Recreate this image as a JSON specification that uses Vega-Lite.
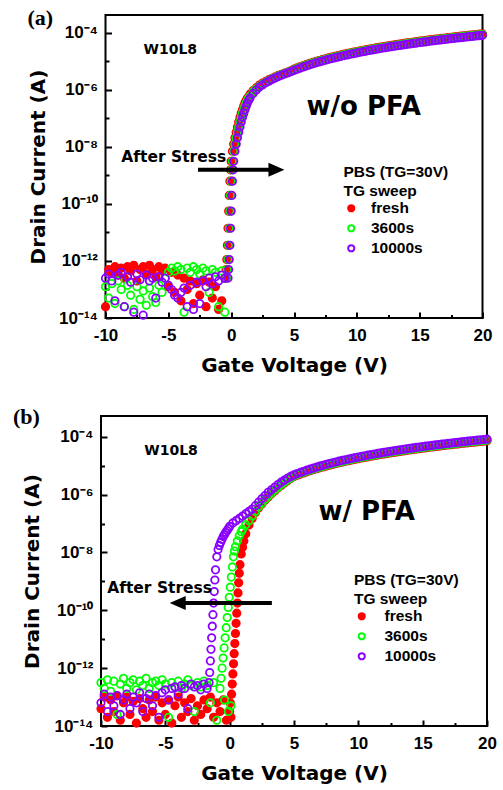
{
"$schema": "https://vega.github.io/schema/vega-lite/v6.json",
"background": "white",
"padding": {"left": 12, "top": 6, "right": 4, "bottom": 4},
"spacing": 98,
"bounds": "flush",
"center": true,
"config": {
  "view": {"stroke": "black", "strokeWidth": 2},
  "axis": {"grid": false, "domain": false, "tickColor": "black", "tickWidth": 2, "labelColor": "black", "titleColor": "black"},
  "legend": {"padding": 0}
},
"resolve": {"scale": {"stroke": "independent", "fill": "independent"}, "legend": {"stroke": "independent", "fill": "independent"}},
"datasets": {
"a": [
{"s":"fresh","v":-10,"i":2.5e-14},{"s":"fresh","v":-9.75,"i":5.0e-13},{"s":"fresh","v":-9.5,"i":4.0e-13},{"s":"fresh","v":-9.25,"i":6.3e-13},{"s":"fresh","v":-9,"i":3.2e-13},{"s":"fresh","v":-8.75,"i":5.6e-13},{"s":"fresh","v":-8.5,"i":2.5e-13},{"s":"fresh","v":-8.25,"i":6.3e-13},{"s":"fresh","v":-8,"i":4.5e-13},{"s":"fresh","v":-7.75,"i":7.1e-13},{"s":"fresh","v":-7.5,"i":2.0e-13},{"s":"fresh","v":-7.25,"i":5.0e-13},{"s":"fresh","v":-7,"i":6.3e-13},{"s":"fresh","v":-6.75,"i":3.5e-13},{"s":"fresh","v":-6.5,"i":7.1e-13},{"s":"fresh","v":-6.25,"i":5.0e-13},{"s":"fresh","v":-6,"i":2.8e-13},{"s":"fresh","v":-5.75,"i":6.3e-13},{"s":"fresh","v":-5.5,"i":4.5e-13},{"s":"fresh","v":-5.25,"i":5.6e-13},{"s":"fresh","v":-5,"i":1.26e-13},{"s":"fresh","v":-4.75,"i":4.0e-13},{"s":"fresh","v":-4.5,"i":7.9e-14},{"s":"fresh","v":-4.25,"i":3.2e-13},{"s":"fresh","v":-4,"i":4.0e-14},{"s":"fresh","v":-3.75,"i":2.5e-13},{"s":"fresh","v":-3.5,"i":1.0e-13},{"s":"fresh","v":-3.25,"i":2.0e-13},{"s":"fresh","v":-3,"i":3.2e-14},{"s":"fresh","v":-2.75,"i":1.6e-13},{"s":"fresh","v":-2.5,"i":6.3e-14},{"s":"fresh","v":-2.25,"i":2.2e-13},{"s":"fresh","v":-2,"i":2.5e-14},{"s":"fresh","v":-1.75,"i":1.8e-13},{"s":"fresh","v":-1.5,"i":5.0e-14},{"s":"fresh","v":-1.25,"i":1.26e-13},{"s":"fresh","v":-1,"i":2.0e-14},{"s":"fresh","v":-0.75,"i":4.0e-14},{"s":"fresh","v":-0.5,"i":2.5e-13},
{"s":"fresh","v":-0.45,"i":2.51e-13},{"s":"fresh","v":-0.4,"i":5.01e-13},{"s":"fresh","v":-0.35,"i":1.12e-12},{"s":"fresh","v":-0.3,"i":3.55e-12},{"s":"fresh","v":-0.25,"i":1.41e-11},{"s":"fresh","v":-0.2,"i":5.62e-11},{"s":"fresh","v":-0.15,"i":2.0e-10},{"s":"fresh","v":-0.1,"i":6.31e-10},{"s":"fresh","v":-0.05,"i":1.58e-9},{"s":"fresh","v":0,"i":3.16e-9},{"s":"fresh","v":0.1,"i":7.08e-9},{"s":"fresh","v":0.2,"i":1.26e-8},{"s":"fresh","v":0.3,"i":2.09e-8},{"s":"fresh","v":0.4,"i":3.31e-8},{"s":"fresh","v":0.5,"i":5.01e-8},{"s":"fresh","v":0.6,"i":7.59e-8},{"s":"fresh","v":0.7,"i":1.10e-7},{"s":"fresh","v":0.8,"i":1.51e-7},{"s":"fresh","v":0.9,"i":2.04e-7},{"s":"fresh","v":1.0,"i":2.75e-7},{"s":"fresh","v":1.1,"i":3.55e-7},{"s":"fresh","v":1.2,"i":4.37e-7},{"s":"fresh","v":1.3,"i":5.25e-7},{"s":"fresh","v":1.5,"i":7.1e-7},{"s":"fresh","v":1.75,"i":9.5e-7},{"s":"fresh","v":2.0,"i":1.2e-6},{"s":"fresh","v":2.25,"i":1.48e-6},{"s":"fresh","v":2.5,"i":1.74e-6},{"s":"fresh","v":2.75,"i":2.0e-6},{"s":"fresh","v":3.0,"i":2.29e-6},{"s":"fresh","v":3.25,"i":2.57e-6},{"s":"fresh","v":3.5,"i":2.88e-6},{"s":"fresh","v":3.75,"i":3.24e-6},{"s":"fresh","v":4.0,"i":3.55e-6},{"s":"fresh","v":4.25,"i":3.89e-6},{"s":"fresh","v":4.5,"i":4.27e-6},{"s":"fresh","v":4.75,"i":4.68e-6},
{"s":"fresh","v":5,"i":5.41e-6},{"s":"fresh","v":5.25,"i":5.98e-6},{"s":"fresh","v":5.5,"i":6.57e-6},{"s":"fresh","v":5.75,"i":7.20e-6},{"s":"fresh","v":6,"i":7.86e-6},{"s":"fresh","v":6.25,"i":8.55e-6},{"s":"fresh","v":6.5,"i":9.26e-6},{"s":"fresh","v":6.75,"i":1.001e-5},{"s":"fresh","v":7,"i":1.079e-5},{"s":"fresh","v":7.25,"i":1.159e-5},{"s":"fresh","v":7.5,"i":1.242e-5},{"s":"fresh","v":7.75,"i":1.328e-5},{"s":"fresh","v":8,"i":1.418e-5},{"s":"fresh","v":8.25,"i":1.510e-5},{"s":"fresh","v":8.5,"i":1.605e-5},{"s":"fresh","v":8.75,"i":1.704e-5},{"s":"fresh","v":9,"i":1.805e-5},{"s":"fresh","v":9.25,"i":1.910e-5},{"s":"fresh","v":9.5,"i":2.016e-5},{"s":"fresh","v":9.75,"i":2.127e-5},{"s":"fresh","v":10,"i":2.240e-5},{"s":"fresh","v":10.25,"i":2.356e-5},{"s":"fresh","v":10.5,"i":2.475e-5},{"s":"fresh","v":10.75,"i":2.598e-5},{"s":"fresh","v":11,"i":2.724e-5},{"s":"fresh","v":11.25,"i":2.853e-5},{"s":"fresh","v":11.5,"i":2.984e-5},{"s":"fresh","v":11.75,"i":3.118e-5},{"s":"fresh","v":12,"i":3.256e-5},{"s":"fresh","v":12.25,"i":3.396e-5},{"s":"fresh","v":12.5,"i":3.539e-5},{"s":"fresh","v":12.75,"i":3.686e-5},{"s":"fresh","v":13,"i":3.836e-5},{"s":"fresh","v":13.25,"i":3.988e-5},{"s":"fresh","v":13.5,"i":4.144e-5},{"s":"fresh","v":13.75,"i":4.303e-5},{"s":"fresh","v":14,"i":4.465e-5},{"s":"fresh","v":14.25,"i":4.630e-5},{"s":"fresh","v":14.5,"i":4.798e-5},{"s":"fresh","v":14.75,"i":4.969e-5},{"s":"fresh","v":15,"i":5.143e-5},{"s":"fresh","v":15.25,"i":5.321e-5},{"s":"fresh","v":15.5,"i":5.500e-5},{"s":"fresh","v":15.75,"i":5.684e-5},{"s":"fresh","v":16,"i":5.871e-5},{"s":"fresh","v":16.25,"i":6.060e-5},{"s":"fresh","v":16.5,"i":6.253e-5},{"s":"fresh","v":16.75,"i":6.449e-5},{"s":"fresh","v":17,"i":6.647e-5},{"s":"fresh","v":17.25,"i":6.850e-5},{"s":"fresh","v":17.5,"i":7.055e-5},{"s":"fresh","v":17.75,"i":7.263e-5},{"s":"fresh","v":18,"i":7.474e-5},{"s":"fresh","v":18.25,"i":7.689e-5},{"s":"fresh","v":18.5,"i":7.906e-5},{"s":"fresh","v":18.75,"i":8.127e-5},{"s":"fresh","v":19,"i":8.351e-5},{"s":"fresh","v":19.25,"i":8.578e-5},{"s":"fresh","v":19.5,"i":8.808e-5},{"s":"fresh","v":19.75,"i":9.041e-5},{"s":"fresh","v":20,"i":9.277e-5},
{"s":"3600s","v":-10,"i":1.26e-13},{"s":"3600s","v":-9.75,"i":5.0e-14},{"s":"3600s","v":-9.5,"i":1.6e-13},{"s":"3600s","v":-9.25,"i":3.2e-14},{"s":"3600s","v":-9,"i":2.0e-13},{"s":"3600s","v":-8.75,"i":1.0e-13},{"s":"3600s","v":-8.5,"i":2.5e-14},{"s":"3600s","v":-8.25,"i":1.4e-13},{"s":"3600s","v":-8,"i":6.3e-14},{"s":"3600s","v":-7.75,"i":2.0e-14},{"s":"3600s","v":-7.5,"i":1.26e-13},{"s":"3600s","v":-7.25,"i":4.5e-14},{"s":"3600s","v":-7,"i":8.9e-14},{"s":"3600s","v":-6.75,"i":2.8e-14},{"s":"3600s","v":-6.5,"i":1.12e-13},{"s":"3600s","v":-6.25,"i":5.6e-14},{"s":"3600s","v":-6,"i":3.5e-14},{"s":"3600s","v":-5.75,"i":1.4e-13},{"s":"3600s","v":-5.5,"i":7.9e-14},{"s":"3600s","v":-5.25,"i":2.5e-13},{"s":"3600s","v":-5,"i":4.0e-13},{"s":"3600s","v":-4.75,"i":5.6e-13},{"s":"3600s","v":-4.5,"i":4.5e-13},{"s":"3600s","v":-4.25,"i":6.3e-13},{"s":"3600s","v":-4,"i":5.0e-13},{"s":"3600s","v":-3.75,"i":1.6e-14},{"s":"3600s","v":-3.5,"i":5.6e-13},{"s":"3600s","v":-3.25,"i":4.0e-13},{"s":"3600s","v":-3,"i":6.3e-13},{"s":"3600s","v":-2.75,"i":5.0e-13},{"s":"3600s","v":-2.5,"i":3.5e-13},{"s":"3600s","v":-2.25,"i":5.6e-13},{"s":"3600s","v":-2,"i":4.5e-13},{"s":"3600s","v":-1.75,"i":7.9e-14},{"s":"3600s","v":-1.5,"i":5.0e-13},{"s":"3600s","v":-1.25,"i":4.0e-13},{"s":"3600s","v":-1,"i":2.5e-14},{"s":"3600s","v":-0.75,"i":4.5e-13},{"s":"3600s","v":-0.5,"i":1.6e-14},
{"s":"3600s","v":-0.35,"i":2.51e-13},{"s":"3600s","v":-0.3,"i":5.01e-13},{"s":"3600s","v":-0.25,"i":1.12e-12},{"s":"3600s","v":-0.2,"i":3.55e-12},{"s":"3600s","v":-0.15,"i":1.41e-11},{"s":"3600s","v":-0.1,"i":5.62e-11},{"s":"3600s","v":-0.05,"i":2.0e-10},{"s":"3600s","v":0,"i":6.31e-10},{"s":"3600s","v":0.05,"i":1.58e-9},{"s":"3600s","v":0.1,"i":3.16e-9},{"s":"3600s","v":0.2,"i":7.08e-9},{"s":"3600s","v":0.3,"i":1.26e-8},{"s":"3600s","v":0.4,"i":2.09e-8},{"s":"3600s","v":0.5,"i":3.31e-8},{"s":"3600s","v":0.6,"i":5.01e-8},{"s":"3600s","v":0.7,"i":7.59e-8},{"s":"3600s","v":0.8,"i":1.10e-7},{"s":"3600s","v":0.9,"i":1.51e-7},{"s":"3600s","v":1.0,"i":2.04e-7},{"s":"3600s","v":1.1,"i":2.75e-7},{"s":"3600s","v":1.2,"i":3.55e-7},{"s":"3600s","v":1.3,"i":4.37e-7},{"s":"3600s","v":1.4,"i":5.25e-7},{"s":"3600s","v":1.5,"i":6.03e-7},{"s":"3600s","v":1.75,"i":8.51e-7},{"s":"3600s","v":2.0,"i":1.10e-6},{"s":"3600s","v":2.25,"i":1.35e-6},{"s":"3600s","v":2.5,"i":1.62e-6},{"s":"3600s","v":2.75,"i":1.86e-6},{"s":"3600s","v":3.0,"i":2.14e-6},{"s":"3600s","v":3.25,"i":2.45e-6},{"s":"3600s","v":3.5,"i":2.75e-6},{"s":"3600s","v":3.75,"i":3.09e-6},{"s":"3600s","v":4.0,"i":3.43e-6},{"s":"3600s","v":4.25,"i":3.76e-6},{"s":"3600s","v":4.5,"i":4.12e-6},{"s":"3600s","v":4.75,"i":4.52e-6},
{"s":"3600s","v":5,"i":5.12e-6},{"s":"3600s","v":5.25,"i":5.66e-6},{"s":"3600s","v":5.5,"i":6.22e-6},{"s":"3600s","v":5.75,"i":6.82e-6},{"s":"3600s","v":6,"i":7.44e-6},{"s":"3600s","v":6.25,"i":8.09e-6},{"s":"3600s","v":6.5,"i":8.77e-6},{"s":"3600s","v":6.75,"i":9.48e-6},{"s":"3600s","v":7,"i":1.021e-5},{"s":"3600s","v":7.25,"i":1.097e-5},{"s":"3600s","v":7.5,"i":1.176e-5},{"s":"3600s","v":7.75,"i":1.257e-5},{"s":"3600s","v":8,"i":1.342e-5},{"s":"3600s","v":8.25,"i":1.429e-5},{"s":"3600s","v":8.5,"i":1.519e-5},{"s":"3600s","v":8.75,"i":1.612e-5},{"s":"3600s","v":9,"i":1.709e-5},{"s":"3600s","v":9.25,"i":1.807e-5},{"s":"3600s","v":9.5,"i":1.908e-5},{"s":"3600s","v":9.75,"i":2.013e-5},{"s":"3600s","v":10,"i":2.120e-5},{"s":"3600s","v":10.25,"i":2.230e-5},{"s":"3600s","v":10.5,"i":2.343e-5},{"s":"3600s","v":10.75,"i":2.459e-5},{"s":"3600s","v":11,"i":2.578e-5},{"s":"3600s","v":11.25,"i":2.700e-5},{"s":"3600s","v":11.5,"i":2.824e-5},{"s":"3600s","v":11.75,"i":2.951e-5},{"s":"3600s","v":12,"i":3.081e-5},{"s":"3600s","v":12.25,"i":3.214e-5},{"s":"3600s","v":12.5,"i":3.350e-5},{"s":"3600s","v":12.75,"i":3.488e-5},{"s":"3600s","v":13,"i":3.631e-5},{"s":"3600s","v":13.25,"i":3.775e-5},{"s":"3600s","v":13.5,"i":3.922e-5},{"s":"3600s","v":13.75,"i":4.073e-5},{"s":"3600s","v":14,"i":4.226e-5},{"s":"3600s","v":14.25,"i":4.382e-5},{"s":"3600s","v":14.5,"i":4.541e-5},{"s":"3600s","v":14.75,"i":4.703e-5},{"s":"3600s","v":15,"i":4.868e-5},{"s":"3600s","v":15.25,"i":5.036e-5},{"s":"3600s","v":15.5,"i":5.206e-5},{"s":"3600s","v":15.75,"i":5.380e-5},{"s":"3600s","v":16,"i":5.557e-5},{"s":"3600s","v":16.25,"i":5.736e-5},{"s":"3600s","v":16.5,"i":5.918e-5},{"s":"3600s","v":16.75,"i":6.103e-5},{"s":"3600s","v":17,"i":6.291e-5},{"s":"3600s","v":17.25,"i":6.483e-5},{"s":"3600s","v":17.5,"i":6.677e-5},{"s":"3600s","v":17.75,"i":6.874e-5},{"s":"3600s","v":18,"i":7.073e-5},{"s":"3600s","v":18.25,"i":7.277e-5},{"s":"3600s","v":18.5,"i":7.483e-5},{"s":"3600s","v":18.75,"i":7.691e-5},{"s":"3600s","v":19,"i":7.903e-5},{"s":"3600s","v":19.25,"i":8.119e-5},{"s":"3600s","v":19.5,"i":8.336e-5},{"s":"3600s","v":19.75,"i":8.556e-5},{"s":"3600s","v":20,"i":8.780e-5},
{"s":"10000s","v":-10,"i":2.5e-13},{"s":"10000s","v":-9.75,"i":3.5e-13},{"s":"10000s","v":-9.5,"i":2.0e-13},{"s":"10000s","v":-9.25,"i":4.0e-14},{"s":"10000s","v":-9,"i":3.2e-13},{"s":"10000s","v":-8.75,"i":4.0e-13},{"s":"10000s","v":-8.5,"i":2.5e-14},{"s":"10000s","v":-8.25,"i":2.8e-13},{"s":"10000s","v":-8,"i":1.8e-13},{"s":"10000s","v":-7.75,"i":1.6e-14},{"s":"10000s","v":-7.5,"i":3.5e-13},{"s":"10000s","v":-7.25,"i":2.2e-13},{"s":"10000s","v":-7,"i":1.26e-14},{"s":"10000s","v":-6.75,"i":3.2e-13},{"s":"10000s","v":-6.5,"i":2.0e-13},{"s":"10000s","v":-6.25,"i":2.5e-13},{"s":"10000s","v":-6,"i":5.0e-14},{"s":"10000s","v":-5.75,"i":2.8e-13},{"s":"10000s","v":-5.5,"i":1.8e-13},{"s":"10000s","v":-5.25,"i":2.5e-13},{"s":"10000s","v":-5,"i":1.4e-13},{"s":"10000s","v":-4.75,"i":1.0e-13},{"s":"10000s","v":-4.5,"i":6.3e-14},{"s":"10000s","v":-4.25,"i":5.0e-14},{"s":"10000s","v":-4,"i":7.9e-14},{"s":"10000s","v":-3.75,"i":1.12e-13},{"s":"10000s","v":-3.5,"i":2.5e-14},{"s":"10000s","v":-3.25,"i":1.4e-13},{"s":"10000s","v":-3,"i":2.0e-14},{"s":"10000s","v":-2.75,"i":1.8e-13},{"s":"10000s","v":-2.5,"i":3.2e-14},{"s":"10000s","v":-2.25,"i":2.0e-13},{"s":"10000s","v":-2,"i":1.26e-13},{"s":"10000s","v":-1.75,"i":2.5e-13},{"s":"10000s","v":-1.5,"i":1.6e-13},{"s":"10000s","v":-1.25,"i":2.8e-13},{"s":"10000s","v":-1,"i":2.0e-13},{"s":"10000s","v":-0.75,"i":3.2e-13},{"s":"10000s","v":-0.5,"i":2.5e-13},
{"s":"10000s","v":-0.25,"i":2.51e-13},{"s":"10000s","v":-0.2,"i":5.01e-13},{"s":"10000s","v":-0.15,"i":1.12e-12},{"s":"10000s","v":-0.1,"i":3.55e-12},{"s":"10000s","v":-0.05,"i":1.41e-11},{"s":"10000s","v":0,"i":5.62e-11},{"s":"10000s","v":0.05,"i":2.0e-10},{"s":"10000s","v":0.1,"i":6.31e-10},{"s":"10000s","v":0.15,"i":1.58e-9},{"s":"10000s","v":0.2,"i":3.16e-9},{"s":"10000s","v":0.3,"i":7.08e-9},{"s":"10000s","v":0.4,"i":1.26e-8},{"s":"10000s","v":0.5,"i":2.09e-8},{"s":"10000s","v":0.6,"i":3.31e-8},{"s":"10000s","v":0.7,"i":5.01e-8},{"s":"10000s","v":0.8,"i":7.59e-8},{"s":"10000s","v":0.9,"i":1.10e-7},{"s":"10000s","v":1.0,"i":1.51e-7},{"s":"10000s","v":1.1,"i":2.04e-7},{"s":"10000s","v":1.2,"i":2.75e-7},{"s":"10000s","v":1.3,"i":3.55e-7},{"s":"10000s","v":1.4,"i":4.37e-7},{"s":"10000s","v":1.5,"i":5.25e-7},{"s":"10000s","v":1.75,"i":7.59e-7},{"s":"10000s","v":2.0,"i":1.0e-6},{"s":"10000s","v":2.25,"i":1.26e-6},{"s":"10000s","v":2.5,"i":1.51e-6},{"s":"10000s","v":2.75,"i":1.78e-6},{"s":"10000s","v":3.0,"i":2.04e-6},{"s":"10000s","v":3.25,"i":2.34e-6},{"s":"10000s","v":3.5,"i":2.63e-6},{"s":"10000s","v":3.75,"i":2.95e-6},{"s":"10000s","v":4.0,"i":3.31e-6},{"s":"10000s","v":4.25,"i":3.63e-6},{"s":"10000s","v":4.5,"i":3.98e-6},{"s":"10000s","v":4.75,"i":4.37e-6},
{"s":"10000s","v":5,"i":4.83e-6},{"s":"10000s","v":5.25,"i":5.34e-6},{"s":"10000s","v":5.5,"i":5.87e-6},{"s":"10000s","v":5.75,"i":6.43e-6},{"s":"10000s","v":6,"i":7.02e-6},{"s":"10000s","v":6.25,"i":7.63e-6},{"s":"10000s","v":6.5,"i":8.27e-6},{"s":"10000s","v":6.75,"i":8.94e-6},{"s":"10000s","v":7,"i":9.63e-6},{"s":"10000s","v":7.25,"i":1.035e-5},{"s":"10000s","v":7.5,"i":1.109e-5},{"s":"10000s","v":7.75,"i":1.186e-5},{"s":"10000s","v":8,"i":1.266e-5},{"s":"10000s","v":8.25,"i":1.348e-5},{"s":"10000s","v":8.5,"i":1.433e-5},{"s":"10000s","v":8.75,"i":1.521e-5},{"s":"10000s","v":9,"i":1.612e-5},{"s":"10000s","v":9.25,"i":1.705e-5},{"s":"10000s","v":9.5,"i":1.800e-5},{"s":"10000s","v":9.75,"i":1.899e-5},{"s":"10000s","v":10,"i":2.000e-5},{"s":"10000s","v":10.25,"i":2.104e-5},{"s":"10000s","v":10.5,"i":2.210e-5},{"s":"10000s","v":10.75,"i":2.320e-5},{"s":"10000s","v":11,"i":2.432e-5},{"s":"10000s","v":11.25,"i":2.547e-5},{"s":"10000s","v":11.5,"i":2.664e-5},{"s":"10000s","v":11.75,"i":2.784e-5},{"s":"10000s","v":12,"i":2.907e-5},{"s":"10000s","v":12.25,"i":3.032e-5},{"s":"10000s","v":12.5,"i":3.160e-5},{"s":"10000s","v":12.75,"i":3.291e-5},{"s":"10000s","v":13,"i":3.425e-5},{"s":"10000s","v":13.25,"i":3.561e-5},{"s":"10000s","v":13.5,"i":3.700e-5},{"s":"10000s","v":13.75,"i":3.842e-5},{"s":"10000s","v":14,"i":3.987e-5},{"s":"10000s","v":14.25,"i":4.134e-5},{"s":"10000s","v":14.5,"i":4.284e-5},{"s":"10000s","v":14.75,"i":4.437e-5},{"s":"10000s","v":15,"i":4.592e-5},{"s":"10000s","v":15.25,"i":4.751e-5},{"s":"10000s","v":15.5,"i":4.911e-5},{"s":"10000s","v":15.75,"i":5.075e-5},{"s":"10000s","v":16,"i":5.242e-5},{"s":"10000s","v":16.25,"i":5.411e-5},{"s":"10000s","v":16.5,"i":5.583e-5},{"s":"10000s","v":16.75,"i":5.758e-5},{"s":"10000s","v":17,"i":5.935e-5},{"s":"10000s","v":17.25,"i":6.116e-5},{"s":"10000s","v":17.5,"i":6.299e-5},{"s":"10000s","v":17.75,"i":6.485e-5},{"s":"10000s","v":18,"i":6.673e-5},{"s":"10000s","v":18.25,"i":6.865e-5},{"s":"10000s","v":18.5,"i":7.059e-5},{"s":"10000s","v":18.75,"i":7.256e-5},{"s":"10000s","v":19,"i":7.456e-5},{"s":"10000s","v":19.25,"i":7.659e-5},{"s":"10000s","v":19.5,"i":7.864e-5},{"s":"10000s","v":19.75,"i":8.072e-5},{"s":"10000s","v":20,"i":8.283e-5}
],
"b": [
{"s":"fresh","v":-10,"i":3.98e-14},{"s":"fresh","v":-9.75,"i":1.0e-13},{"s":"fresh","v":-9.5,"i":2.0e-14},{"s":"fresh","v":-9.25,"i":7.94e-14},{"s":"fresh","v":-9,"i":3.16e-14},{"s":"fresh","v":-8.75,"i":1.12e-13},{"s":"fresh","v":-8.5,"i":1.58e-14},{"s":"fresh","v":-8.25,"i":6.31e-14},{"s":"fresh","v":-8,"i":1.0e-13},{"s":"fresh","v":-7.75,"i":2.51e-14},{"s":"fresh","v":-7.5,"i":7.08e-14},{"s":"fresh","v":-7.25,"i":1.26e-14},{"s":"fresh","v":-7,"i":8.91e-14},{"s":"fresh","v":-6.75,"i":3.98e-14},{"s":"fresh","v":-6.5,"i":2.0e-14},{"s":"fresh","v":-6.25,"i":7.94e-14},{"s":"fresh","v":-6,"i":3.16e-14},{"s":"fresh","v":-5.75,"i":1.0e-13},{"s":"fresh","v":-5.5,"i":1.58e-14},{"s":"fresh","v":-5.25,"i":6.31e-14},{"s":"fresh","v":-5,"i":2.51e-14},{"s":"fresh","v":-4.75,"i":7.94e-14},{"s":"fresh","v":-4.5,"i":1.26e-14},{"s":"fresh","v":-4.25,"i":5.01e-14},{"s":"fresh","v":-4,"i":1.0e-13},{"s":"fresh","v":-3.75,"i":2.0e-14},{"s":"fresh","v":-3.5,"i":6.31e-14},{"s":"fresh","v":-3.25,"i":3.16e-14},{"s":"fresh","v":-3,"i":8.91e-14},{"s":"fresh","v":-2.75,"i":1.58e-14},{"s":"fresh","v":-2.5,"i":5.01e-14},{"s":"fresh","v":-2.25,"i":2.51e-14},{"s":"fresh","v":-2,"i":7.94e-14},{"s":"fresh","v":-1.75,"i":3.98e-14},{"s":"fresh","v":-1.5,"i":1.0e-13},{"s":"fresh","v":-1.25,"i":2.0e-14},{"s":"fresh","v":-1,"i":6.31e-14},{"s":"fresh","v":-0.75,"i":3.16e-14},{"s":"fresh","v":-0.5,"i":7.94e-14},{"s":"fresh","v":-0.25,"i":1.58e-14},{"s":"fresh","v":0,"i":3.2e-14},{"s":"fresh","v":0.05,"i":6.3e-14},{"s":"fresh","v":0.1,"i":2.0e-14},
{"s":"fresh","v":0.15,"i":1.26e-13},{"s":"fresh","v":0.2,"i":2.82e-13},{"s":"fresh","v":0.25,"i":6.31e-13},{"s":"fresh","v":0.3,"i":1.41e-12},{"s":"fresh","v":0.35,"i":3.16e-12},{"s":"fresh","v":0.4,"i":7.08e-12},{"s":"fresh","v":0.45,"i":1.58e-11},{"s":"fresh","v":0.5,"i":3.55e-11},{"s":"fresh","v":0.55,"i":7.94e-11},{"s":"fresh","v":0.6,"i":1.78e-10},{"s":"fresh","v":0.65,"i":3.98e-10},{"s":"fresh","v":0.7,"i":8.91e-10},{"s":"fresh","v":0.75,"i":1.91e-9},{"s":"fresh","v":0.8,"i":3.80e-9},{"s":"fresh","v":0.9,"i":8.91e-9},{"s":"fresh","v":1.0,"i":1.51e-8},{"s":"fresh","v":1.1,"i":2.51e-8},{"s":"fresh","v":1.25,"i":4.47e-8},{"s":"fresh","v":1.5,"i":8.91e-8},{"s":"fresh","v":1.75,"i":1.51e-7},{"s":"fresh","v":2.0,"i":2.40e-7},{"s":"fresh","v":2.25,"i":3.47e-7},{"s":"fresh","v":2.5,"i":4.79e-7},{"s":"fresh","v":2.75,"i":6.46e-7},{"s":"fresh","v":3.0,"i":8.32e-7},{"s":"fresh","v":3.25,"i":1.07e-6},{"s":"fresh","v":3.5,"i":1.35e-6},{"s":"fresh","v":3.75,"i":1.70e-6},{"s":"fresh","v":4.0,"i":2.09e-6},{"s":"fresh","v":4.25,"i":2.51e-6},{"s":"fresh","v":4.5,"i":3.02e-6},{"s":"fresh","v":4.75,"i":3.63e-6},
{"s":"fresh","v":5,"i":4.25e-6},{"s":"fresh","v":5.25,"i":4.70e-6},{"s":"fresh","v":5.5,"i":5.17e-6},{"s":"fresh","v":5.75,"i":5.66e-6},{"s":"fresh","v":6,"i":6.18e-6},{"s":"fresh","v":6.25,"i":6.71e-6},{"s":"fresh","v":6.5,"i":7.28e-6},{"s":"fresh","v":6.75,"i":7.87e-6},{"s":"fresh","v":7,"i":8.47e-6},{"s":"fresh","v":7.25,"i":9.11e-6},{"s":"fresh","v":7.5,"i":9.76e-6},{"s":"fresh","v":7.75,"i":1.044e-5},{"s":"fresh","v":8,"i":1.114e-5},{"s":"fresh","v":8.25,"i":1.186e-5},{"s":"fresh","v":8.5,"i":1.261e-5},{"s":"fresh","v":8.75,"i":1.338e-5},{"s":"fresh","v":9,"i":1.419e-5},{"s":"fresh","v":9.25,"i":1.500e-5},{"s":"fresh","v":9.5,"i":1.584e-5},{"s":"fresh","v":9.75,"i":1.671e-5},{"s":"fresh","v":10,"i":1.760e-5},{"s":"fresh","v":10.25,"i":1.852e-5},{"s":"fresh","v":10.5,"i":1.945e-5},{"s":"fresh","v":10.75,"i":2.042e-5},{"s":"fresh","v":11,"i":2.140e-5},{"s":"fresh","v":11.25,"i":2.241e-5},{"s":"fresh","v":11.5,"i":2.344e-5},{"s":"fresh","v":11.75,"i":2.450e-5},{"s":"fresh","v":12,"i":2.558e-5},{"s":"fresh","v":12.25,"i":2.668e-5},{"s":"fresh","v":12.5,"i":2.781e-5},{"s":"fresh","v":12.75,"i":2.896e-5},{"s":"fresh","v":13,"i":3.014e-5},{"s":"fresh","v":13.25,"i":3.134e-5},{"s":"fresh","v":13.5,"i":3.256e-5},{"s":"fresh","v":13.75,"i":3.381e-5},{"s":"fresh","v":14,"i":3.509e-5},{"s":"fresh","v":14.25,"i":3.638e-5},{"s":"fresh","v":14.5,"i":3.770e-5},{"s":"fresh","v":14.75,"i":3.905e-5},{"s":"fresh","v":15,"i":4.041e-5},{"s":"fresh","v":15.25,"i":4.181e-5},{"s":"fresh","v":15.5,"i":4.322e-5},{"s":"fresh","v":15.75,"i":4.466e-5},{"s":"fresh","v":16,"i":4.613e-5},{"s":"fresh","v":16.25,"i":4.762e-5},{"s":"fresh","v":16.5,"i":4.913e-5},{"s":"fresh","v":16.75,"i":5.067e-5},{"s":"fresh","v":17,"i":5.223e-5},{"s":"fresh","v":17.25,"i":5.382e-5},{"s":"fresh","v":17.5,"i":5.543e-5},{"s":"fresh","v":17.75,"i":5.707e-5},{"s":"fresh","v":18,"i":5.872e-5},{"s":"fresh","v":18.25,"i":6.041e-5},{"s":"fresh","v":18.5,"i":6.212e-5},{"s":"fresh","v":18.75,"i":6.385e-5},{"s":"fresh","v":19,"i":6.561e-5},{"s":"fresh","v":19.25,"i":6.740e-5},{"s":"fresh","v":19.5,"i":6.920e-5},{"s":"fresh","v":19.75,"i":7.103e-5},{"s":"fresh","v":20,"i":7.289e-5},
{"s":"3600s","v":-10,"i":3.16e-13},{"s":"3600s","v":-9.75,"i":2.0e-13},{"s":"3600s","v":-9.5,"i":3.98e-13},{"s":"3600s","v":-9.25,"i":1.58e-13},{"s":"3600s","v":-9,"i":3.55e-13},{"s":"3600s","v":-8.75,"i":2.51e-14},{"s":"3600s","v":-8.5,"i":2.82e-13},{"s":"3600s","v":-8.25,"i":4.47e-13},{"s":"3600s","v":-8,"i":2.0e-13},{"s":"3600s","v":-7.75,"i":3.16e-13},{"s":"3600s","v":-7.5,"i":3.98e-13},{"s":"3600s","v":-7.25,"i":1.78e-13},{"s":"3600s","v":-7,"i":3.55e-13},{"s":"3600s","v":-6.75,"i":2.51e-13},{"s":"3600s","v":-6.5,"i":4.47e-13},{"s":"3600s","v":-6.25,"i":2.0e-13},{"s":"3600s","v":-6,"i":3.16e-13},{"s":"3600s","v":-5.75,"i":3.55e-13},{"s":"3600s","v":-5.5,"i":2.51e-13},{"s":"3600s","v":-5.25,"i":3.98e-13},{"s":"3600s","v":-5,"i":2.82e-13},{"s":"3600s","v":-4.75,"i":2.0e-14},{"s":"3600s","v":-4.5,"i":3.16e-13},{"s":"3600s","v":-4.25,"i":2.24e-13},{"s":"3600s","v":-4,"i":3.55e-13},{"s":"3600s","v":-3.75,"i":2.0e-13},{"s":"3600s","v":-3.5,"i":2.82e-13},{"s":"3600s","v":-3.25,"i":3.98e-13},{"s":"3600s","v":-3,"i":2.51e-13},{"s":"3600s","v":-2.75,"i":3.16e-14},{"s":"3600s","v":-2.5,"i":3.16e-13},{"s":"3600s","v":-2.25,"i":2.24e-13},{"s":"3600s","v":-2,"i":3.55e-13},{"s":"3600s","v":-1.75,"i":2.51e-13},{"s":"3600s","v":-1.5,"i":6.31e-14},{"s":"3600s","v":-1.25,"i":3.16e-13},{"s":"3600s","v":-1,"i":1.58e-14},{"s":"3600s","v":-0.4,"i":7.9e-14},{"s":"3600s","v":-0.1,"i":3.2e-14},{"s":"3600s","v":0.1,"i":5.0e-14},
{"s":"3600s","v":-0.75,"i":2.0e-13},{"s":"3600s","v":-0.67,"i":4.47e-13},{"s":"3600s","v":-0.59,"i":1.0e-12},{"s":"3600s","v":-0.51,"i":2.24e-12},{"s":"3600s","v":-0.43,"i":5.01e-12},{"s":"3600s","v":-0.35,"i":1.12e-11},{"s":"3600s","v":-0.27,"i":2.51e-11},{"s":"3600s","v":-0.19,"i":5.62e-11},{"s":"3600s","v":-0.11,"i":1.26e-10},{"s":"3600s","v":-0.03,"i":2.82e-10},{"s":"3600s","v":0.05,"i":6.31e-10},{"s":"3600s","v":0.13,"i":1.41e-9},{"s":"3600s","v":0.21,"i":3.16e-9},{"s":"3600s","v":0.29,"i":7.08e-9},{"s":"3600s","v":0.37,"i":1.12e-8},{"s":"3600s","v":0.45,"i":1.58e-8},{"s":"3600s","v":0.6,"i":2.51e-8},{"s":"3600s","v":0.75,"i":3.80e-8},{"s":"3600s","v":0.9,"i":5.25e-8},{"s":"3600s","v":1.0,"i":6.31e-8},{"s":"3600s","v":1.25,"i":9.12e-8},{"s":"3600s","v":1.5,"i":1.26e-7},{"s":"3600s","v":1.75,"i":1.82e-7},{"s":"3600s","v":2.0,"i":2.63e-7},{"s":"3600s","v":2.25,"i":3.80e-7},{"s":"3600s","v":2.5,"i":5.13e-7},{"s":"3600s","v":2.75,"i":6.92e-7},{"s":"3600s","v":3.0,"i":8.91e-7},{"s":"3600s","v":3.25,"i":1.15e-6},{"s":"3600s","v":3.5,"i":1.45e-6},{"s":"3600s","v":3.75,"i":1.82e-6},{"s":"3600s","v":4.0,"i":2.24e-6},{"s":"3600s","v":4.25,"i":2.69e-6},{"s":"3600s","v":4.5,"i":3.24e-6},{"s":"3600s","v":4.75,"i":3.80e-6},
{"s":"3600s","v":5,"i":4.49e-6},{"s":"3600s","v":5.25,"i":4.97e-6},{"s":"3600s","v":5.5,"i":5.46e-6},{"s":"3600s","v":5.75,"i":5.98e-6},{"s":"3600s","v":6,"i":6.53e-6},{"s":"3600s","v":6.25,"i":7.10e-6},{"s":"3600s","v":6.5,"i":7.69e-6},{"s":"3600s","v":6.75,"i":8.31e-6},{"s":"3600s","v":7,"i":8.96e-6},{"s":"3600s","v":7.25,"i":9.63e-6},{"s":"3600s","v":7.5,"i":1.031e-5},{"s":"3600s","v":7.75,"i":1.103e-5},{"s":"3600s","v":8,"i":1.177e-5},{"s":"3600s","v":8.25,"i":1.254e-5},{"s":"3600s","v":8.5,"i":1.333e-5},{"s":"3600s","v":8.75,"i":1.415e-5},{"s":"3600s","v":9,"i":1.499e-5},{"s":"3600s","v":9.25,"i":1.586e-5},{"s":"3600s","v":9.5,"i":1.674e-5},{"s":"3600s","v":9.75,"i":1.766e-5},{"s":"3600s","v":10,"i":1.860e-5},{"s":"3600s","v":10.25,"i":1.957e-5},{"s":"3600s","v":10.5,"i":2.055e-5},{"s":"3600s","v":10.75,"i":2.158e-5},{"s":"3600s","v":11,"i":2.262e-5},{"s":"3600s","v":11.25,"i":2.369e-5},{"s":"3600s","v":11.5,"i":2.478e-5},{"s":"3600s","v":11.75,"i":2.589e-5},{"s":"3600s","v":12,"i":2.704e-5},{"s":"3600s","v":12.25,"i":2.820e-5},{"s":"3600s","v":12.5,"i":2.939e-5},{"s":"3600s","v":12.75,"i":3.061e-5},{"s":"3600s","v":13,"i":3.185e-5},{"s":"3600s","v":13.25,"i":3.312e-5},{"s":"3600s","v":13.5,"i":3.441e-5},{"s":"3600s","v":13.75,"i":3.573e-5},{"s":"3600s","v":14,"i":3.708e-5},{"s":"3600s","v":14.25,"i":3.845e-5},{"s":"3600s","v":14.5,"i":3.984e-5},{"s":"3600s","v":14.75,"i":4.126e-5},{"s":"3600s","v":15,"i":4.271e-5},{"s":"3600s","v":15.25,"i":4.418e-5},{"s":"3600s","v":15.5,"i":4.567e-5},{"s":"3600s","v":15.75,"i":4.720e-5},{"s":"3600s","v":16,"i":4.875e-5},{"s":"3600s","v":16.25,"i":5.032e-5},{"s":"3600s","v":16.5,"i":5.192e-5},{"s":"3600s","v":16.75,"i":5.355e-5},{"s":"3600s","v":17,"i":5.520e-5},{"s":"3600s","v":17.25,"i":5.688e-5},{"s":"3600s","v":17.5,"i":5.858e-5},{"s":"3600s","v":17.75,"i":6.031e-5},{"s":"3600s","v":18,"i":6.206e-5},{"s":"3600s","v":18.25,"i":6.384e-5},{"s":"3600s","v":18.5,"i":6.565e-5},{"s":"3600s","v":18.75,"i":6.748e-5},{"s":"3600s","v":19,"i":6.934e-5},{"s":"3600s","v":19.25,"i":7.123e-5},{"s":"3600s","v":19.5,"i":7.314e-5},{"s":"3600s","v":19.75,"i":7.507e-5},{"s":"3600s","v":20,"i":7.703e-5},
{"s":"10000s","v":-10,"i":6.31e-14},{"s":"10000s","v":-9.75,"i":1.26e-13},{"s":"10000s","v":-9.5,"i":3.16e-14},{"s":"10000s","v":-9.25,"i":1.0e-13},{"s":"10000s","v":-9,"i":5.01e-14},{"s":"10000s","v":-8.75,"i":1.12e-13},{"s":"10000s","v":-8.5,"i":2.51e-14},{"s":"10000s","v":-8.25,"i":7.94e-14},{"s":"10000s","v":-8,"i":1.26e-13},{"s":"10000s","v":-7.75,"i":3.98e-14},{"s":"10000s","v":-7.5,"i":1.0e-13},{"s":"10000s","v":-7.25,"i":6.31e-14},{"s":"10000s","v":-7,"i":1.41e-13},{"s":"10000s","v":-6.75,"i":3.16e-14},{"s":"10000s","v":-6.5,"i":8.91e-14},{"s":"10000s","v":-6.25,"i":1.26e-13},{"s":"10000s","v":-6,"i":5.01e-14},{"s":"10000s","v":-5.75,"i":1.12e-13},{"s":"10000s","v":-5.5,"i":2.0e-14},{"s":"10000s","v":-5.25,"i":1.41e-13},{"s":"10000s","v":-5,"i":1.78e-13},{"s":"10000s","v":-4.75,"i":7.94e-14},{"s":"10000s","v":-4.5,"i":2.0e-13},{"s":"10000s","v":-4.25,"i":2.24e-13},{"s":"10000s","v":-4,"i":1.26e-13},{"s":"10000s","v":-3.75,"i":2.51e-13},{"s":"10000s","v":-3.5,"i":2.0e-13},{"s":"10000s","v":-3.25,"i":3.98e-14},{"s":"10000s","v":-3,"i":2.82e-13},{"s":"10000s","v":-2.75,"i":2.24e-13},{"s":"10000s","v":-2.5,"i":2.51e-13},{"s":"10000s","v":-2.25,"i":1.78e-13},{"s":"10000s","v":-2,"i":2.82e-13},{"s":"10000s","v":-1.75,"i":2.0e-13},
{"s":"10000s","v":-1.6,"i":3.16e-13},{"s":"10000s","v":-1.55,"i":7.08e-13},{"s":"10000s","v":-1.5,"i":1.78e-12},{"s":"10000s","v":-1.45,"i":4.47e-12},{"s":"10000s","v":-1.4,"i":1.12e-11},{"s":"10000s","v":-1.35,"i":2.82e-11},{"s":"10000s","v":-1.3,"i":7.08e-11},{"s":"10000s","v":-1.25,"i":1.78e-10},{"s":"10000s","v":-1.2,"i":4.47e-10},{"s":"10000s","v":-1.15,"i":1.12e-9},{"s":"10000s","v":-1.1,"i":2.51e-9},{"s":"10000s","v":-1.0,"i":7.08e-9},{"s":"10000s","v":-0.9,"i":1.26e-8},{"s":"10000s","v":-0.8,"i":1.74e-8},{"s":"10000s","v":-0.7,"i":2.24e-8},{"s":"10000s","v":-0.6,"i":2.82e-8},{"s":"10000s","v":-0.5,"i":3.55e-8},{"s":"10000s","v":-0.4,"i":4.17e-8},{"s":"10000s","v":-0.3,"i":5.01e-8},{"s":"10000s","v":-0.2,"i":5.75e-8},{"s":"10000s","v":-0.1,"i":6.76e-8},{"s":"10000s","v":0,"i":7.94e-8},{"s":"10000s","v":0.25,"i":1.05e-7},{"s":"10000s","v":0.5,"i":1.26e-7},{"s":"10000s","v":0.75,"i":1.51e-7},{"s":"10000s","v":1.0,"i":1.82e-7},{"s":"10000s","v":1.25,"i":2.19e-7},{"s":"10000s","v":1.5,"i":2.63e-7},{"s":"10000s","v":1.75,"i":3.16e-7},{"s":"10000s","v":2.0,"i":4.17e-7},{"s":"10000s","v":2.25,"i":5.50e-7},{"s":"10000s","v":2.5,"i":7.24e-7},{"s":"10000s","v":2.75,"i":9.33e-7},{"s":"10000s","v":3.0,"i":1.20e-6},{"s":"10000s","v":3.25,"i":1.48e-6},{"s":"10000s","v":3.5,"i":1.82e-6},{"s":"10000s","v":3.75,"i":2.24e-6},{"s":"10000s","v":4.0,"i":2.69e-6},{"s":"10000s","v":4.25,"i":3.16e-6},{"s":"10000s","v":4.5,"i":3.72e-6},{"s":"10000s","v":4.75,"i":4.27e-6},
{"s":"10000s","v":5,"i":4.83e-6},{"s":"10000s","v":5.25,"i":5.34e-6},{"s":"10000s","v":5.5,"i":5.87e-6},{"s":"10000s","v":5.75,"i":6.43e-6},{"s":"10000s","v":6,"i":7.02e-6},{"s":"10000s","v":6.25,"i":7.63e-6},{"s":"10000s","v":6.5,"i":8.27e-6},{"s":"10000s","v":6.75,"i":8.94e-6},{"s":"10000s","v":7,"i":9.63e-6},{"s":"10000s","v":7.25,"i":1.035e-5},{"s":"10000s","v":7.5,"i":1.109e-5},{"s":"10000s","v":7.75,"i":1.186e-5},{"s":"10000s","v":8,"i":1.266e-5},{"s":"10000s","v":8.25,"i":1.348e-5},{"s":"10000s","v":8.5,"i":1.433e-5},{"s":"10000s","v":8.75,"i":1.521e-5},{"s":"10000s","v":9,"i":1.612e-5},{"s":"10000s","v":9.25,"i":1.705e-5},{"s":"10000s","v":9.5,"i":1.800e-5},{"s":"10000s","v":9.75,"i":1.899e-5},{"s":"10000s","v":10,"i":2.000e-5},{"s":"10000s","v":10.25,"i":2.104e-5},{"s":"10000s","v":10.5,"i":2.210e-5},{"s":"10000s","v":10.75,"i":2.320e-5},{"s":"10000s","v":11,"i":2.432e-5},{"s":"10000s","v":11.25,"i":2.547e-5},{"s":"10000s","v":11.5,"i":2.664e-5},{"s":"10000s","v":11.75,"i":2.784e-5},{"s":"10000s","v":12,"i":2.907e-5},{"s":"10000s","v":12.25,"i":3.032e-5},{"s":"10000s","v":12.5,"i":3.160e-5},{"s":"10000s","v":12.75,"i":3.291e-5},{"s":"10000s","v":13,"i":3.425e-5},{"s":"10000s","v":13.25,"i":3.561e-5},{"s":"10000s","v":13.5,"i":3.700e-5},{"s":"10000s","v":13.75,"i":3.842e-5},{"s":"10000s","v":14,"i":3.987e-5},{"s":"10000s","v":14.25,"i":4.134e-5},{"s":"10000s","v":14.5,"i":4.284e-5},{"s":"10000s","v":14.75,"i":4.437e-5},{"s":"10000s","v":15,"i":4.592e-5},{"s":"10000s","v":15.25,"i":4.751e-5},{"s":"10000s","v":15.5,"i":4.911e-5},{"s":"10000s","v":15.75,"i":5.075e-5},{"s":"10000s","v":16,"i":5.242e-5},{"s":"10000s","v":16.25,"i":5.411e-5},{"s":"10000s","v":16.5,"i":5.583e-5},{"s":"10000s","v":16.75,"i":5.758e-5},{"s":"10000s","v":17,"i":5.935e-5},{"s":"10000s","v":17.25,"i":6.116e-5},{"s":"10000s","v":17.5,"i":6.299e-5},{"s":"10000s","v":17.75,"i":6.485e-5},{"s":"10000s","v":18,"i":6.673e-5},{"s":"10000s","v":18.25,"i":6.865e-5},{"s":"10000s","v":18.5,"i":7.059e-5},{"s":"10000s","v":18.75,"i":7.256e-5},{"s":"10000s","v":19,"i":7.456e-5},{"s":"10000s","v":19.25,"i":7.659e-5},{"s":"10000s","v":19.5,"i":7.864e-5},{"s":"10000s","v":19.75,"i":8.072e-5},{"s":"10000s","v":20,"i":8.283e-5}
]
},
"vconcat": [
{
  "title": {"text": "(a)", "anchor": "start", "frame": "group", "orient": "top", "font": "Liberation Serif", "fontSize": 22, "fontWeight": "bold", "color": "black", "baseline": "alphabetic", "offset": -32, "dx": -78},
  "width": 377, "height": 303,
  "resolve": {"axis": {"x": "independent", "y": "independent"}},
  "layer": [
    {
      "data": {"name": "a"},
      "mark": {"type": "point", "shape": "circle", "size": 55, "strokeWidth": 1.8, "opacity": 1},
      "encoding": {
        "x": {"field": "v", "type": "quantitative", "scale": {"domain": [-10, 20], "nice": false, "zero": false},
              "axis": {"orient": "bottom", "values": [-10, -5, 0, 5, 10, 15, 20], "labelExpr": "datum.value < 0 ? '-' + abs(datum.value) : '' + datum.value", "title": "Gate Voltage (V)", "tickSize": -6, "labelPadding": 15, "labelFont": "Liberation Sans", "labelFontSize": 17, "labelFontWeight": "bold", "labelFlush": false, "labelOverlap": false, "titleFont": "DejaVu Sans", "titleFontSize": 20, "titleFontWeight": "bold", "titlePadding": 12}},
        "y": {"field": "i", "type": "quantitative", "scale": {"type": "log", "domain": [1e-14, 4.27e-4], "nice": false},
              "axis": {"orient": "left", "values": [1e-14, 1e-12, 1e-10, 1e-8, 1e-6, 1e-4], "labelExpr": "datum.value >= 9e-5 ? '10⁻⁴' : datum.value >= 9e-7 ? '10⁻⁶' : datum.value >= 9e-9 ? '10⁻⁸' : datum.value >= 9e-11 ? '10⁻¹⁰' : datum.value >= 9e-13 ? '10⁻¹²' : '10⁻¹⁴'", "title": "Drain Current (A)", "tickSize": -6, "labelPadding": 14, "labelFont": "Liberation Sans", "labelFontSize": 17, "labelFontWeight": "bold", "labelOverlap": false, "titleFont": "DejaVu Sans", "titleFontSize": 20, "titleFontWeight": "bold", "titlePadding": 10}},
        "stroke": {"field": "s", "type": "nominal", "scale": {"domain": ["fresh", "3600s", "10000s"], "range": ["#ff0000", "#00ff00", "#8a00ff"]},
                   "legend": {"title": ["PBS (TG=30V)", "TG sweep"], "orient": "none", "legendX": 238, "legendY": 150, "titleFont": "Liberation Sans", "titleFontSize": 15.5, "titleFontWeight": "bold", "titleColor": "black", "titleLineHeight": 19, "titlePadding": 1, "labelFont": "Liberation Sans", "labelFontSize": 15.5, "labelFontWeight": "bold", "labelColor": "black", "labelOffset": 12, "symbolSize": 38, "symbolStrokeWidth": 2, "rowPadding": 3, "padding": 0}},
        "fill": {"field": "s", "type": "nominal", "scale": {"domain": ["fresh", "3600s", "10000s"], "range": ["#ff0000", "transparent", "transparent"]},
                 "legend": {"title": ["PBS (TG=30V)", "TG sweep"], "orient": "none", "legendX": 238, "legendY": 150, "titleFont": "Liberation Sans", "titleFontSize": 15.5, "titleFontWeight": "bold", "titleColor": "black", "titleLineHeight": 19, "titlePadding": 1, "labelFont": "Liberation Sans", "labelFontSize": 15.5, "labelFontWeight": "bold", "labelColor": "black", "labelOffset": 12, "symbolSize": 38, "symbolStrokeWidth": 2, "rowPadding": 3, "padding": 0}}
      }
    },
    {
      "data": {"values": [{}]},
      "mark": {"type": "rule", "strokeWidth": 4, "color": "black"},
      "encoding": {
        "x": {"datum": -2.64, "type": "quantitative", "axis": {"orient": "bottom", "values": [-7.5, -2.5, 2.5, 7.5, 12.5, 17.5], "labels": false, "title": null, "tickSize": -3.5, "tickWidth": 2}},
        "x2": {"datum": 3.2},
        "y": {"datum": 1.6e-9, "type": "quantitative", "axis": {"orient": "left", "values": [1e-13, 1e-11, 1e-9, 1e-7, 1e-5], "labels": false, "title": null, "tickSize": -3.5, "tickWidth": 2}}
      }
    },
    {
      "data": {"values": [{}]},
      "mark": {"type": "point", "shape": "M-1,-0.875L1,0L-1,0.875Z", "size": 256, "filled": true, "color": "black", "opacity": 1},
      "encoding": {"x": {"datum": 3.6, "type": "quantitative", "axis": null}, "y": {"datum": 1.6e-9, "type": "quantitative", "axis": null}}
    },
    {
      "data": {"values": [{}]},
      "mark": {"type": "text", "text": "W10L8", "align": "left", "baseline": "alphabetic", "font": "DejaVu Sans", "fontWeight": "bold", "fontSize": 14, "color": "black"},
      "encoding": {"x": {"datum": -6.98, "type": "quantitative", "axis": null}, "y": {"datum": 1.88e-5, "type": "quantitative", "axis": null}}
    },
    {
      "data": {"values": [{}]},
      "mark": {"type": "text", "text": "w/o PFA", "align": "left", "baseline": "alphabetic", "font": "DejaVu Sans", "fontWeight": "bold", "fontSize": 26, "color": "black"},
      "encoding": {"x": {"datum": 6.0, "type": "quantitative", "axis": null}, "y": {"datum": 1.29e-7, "type": "quantitative", "axis": null}}
    },
    {
      "data": {"values": [{}]},
      "mark": {"type": "text", "text": "After Stress", "align": "left", "baseline": "alphabetic", "font": "DejaVu Sans", "fontWeight": "bold", "fontSize": 15.5, "color": "black"},
      "encoding": {"x": {"datum": -8.74, "type": "quantitative", "axis": null}, "y": {"datum": 2.98e-9, "type": "quantitative", "axis": null}}
    }
  ]
},
{
  "title": {"text": "(b)", "anchor": "start", "frame": "group", "orient": "top", "font": "Liberation Serif", "fontSize": 22, "fontWeight": "bold", "color": "black", "baseline": "alphabetic", "offset": -30, "dx": -88},
  "width": 386, "height": 310,
  "resolve": {"axis": {"x": "independent", "y": "independent"}},
  "layer": [
    {
      "data": {"name": "b"},
      "mark": {"type": "point", "shape": "circle", "size": 55, "strokeWidth": 1.8, "opacity": 1},
      "encoding": {
        "x": {"field": "v", "type": "quantitative", "scale": {"domain": [-10, 20], "nice": false, "zero": false},
              "axis": {"orient": "bottom", "values": [-10, -5, 0, 5, 10, 15, 20], "labelExpr": "datum.value < 0 ? '-' + abs(datum.value) : '' + datum.value", "title": "Gate Voltage (V)", "tickSize": -6, "labelPadding": 15, "labelFont": "Liberation Sans", "labelFontSize": 17, "labelFontWeight": "bold", "labelFlush": false, "labelOverlap": false, "titleFont": "DejaVu Sans", "titleFontSize": 20, "titleFontWeight": "bold", "titlePadding": 12}},
        "y": {"field": "i", "type": "quantitative", "scale": {"type": "log", "domain": [1e-14, 5.25e-4], "nice": false},
              "axis": {"orient": "left", "values": [1e-14, 1e-12, 1e-10, 1e-8, 1e-6, 1e-4], "labelExpr": "datum.value >= 9e-5 ? '10⁻⁴' : datum.value >= 9e-7 ? '10⁻⁶' : datum.value >= 9e-9 ? '10⁻⁸' : datum.value >= 9e-11 ? '10⁻¹⁰' : datum.value >= 9e-13 ? '10⁻¹²' : '10⁻¹⁴'", "title": "Drain Current (A)", "tickSize": -6, "labelPadding": 14, "labelFont": "Liberation Sans", "labelFontSize": 17, "labelFontWeight": "bold", "labelOverlap": false, "titleFont": "DejaVu Sans", "titleFontSize": 20, "titleFontWeight": "bold", "titlePadding": 12}},
        "stroke": {"field": "s", "type": "nominal", "scale": {"domain": ["fresh", "3600s", "10000s"], "range": ["#ff0000", "#00ff00", "#8a00ff"]},
                   "legend": {"title": ["PBS (TG=30V)", "TG sweep"], "orient": "none", "legendX": 253, "legendY": 157, "titleFont": "Liberation Sans", "titleFontSize": 15.5, "titleFontWeight": "bold", "titleColor": "black", "titleLineHeight": 19, "titlePadding": 1, "labelFont": "Liberation Sans", "labelFontSize": 15.5, "labelFontWeight": "bold", "labelColor": "black", "labelOffset": 15, "symbolSize": 38, "symbolStrokeWidth": 2, "rowPadding": 3, "padding": 0}},
        "fill": {"field": "s", "type": "nominal", "scale": {"domain": ["fresh", "3600s", "10000s"], "range": ["#ff0000", "transparent", "transparent"]},
                 "legend": {"title": ["PBS (TG=30V)", "TG sweep"], "orient": "none", "legendX": 253, "legendY": 157, "titleFont": "Liberation Sans", "titleFontSize": 15.5, "titleFontWeight": "bold", "titleColor": "black", "titleLineHeight": 19, "titlePadding": 1, "labelFont": "Liberation Sans", "labelFontSize": 15.5, "labelFontWeight": "bold", "labelColor": "black", "labelOffset": 15, "symbolSize": 38, "symbolStrokeWidth": 2, "rowPadding": 3, "padding": 0}}
      }
    },
    {
      "data": {"values": [{}]},
      "mark": {"type": "rule", "strokeWidth": 4, "color": "black"},
      "encoding": {
        "x": {"datum": -3.9, "type": "quantitative", "axis": {"orient": "bottom", "values": [-7.5, -2.5, 2.5, 7.5, 12.5, 17.5], "labels": false, "title": null, "tickSize": -3.5, "tickWidth": 2}},
        "x2": {"datum": 3.28},
        "y": {"datum": 1.8e-10, "type": "quantitative", "axis": {"orient": "left", "values": [1e-13, 1e-11, 1e-9, 1e-7, 1e-5], "labels": false, "title": null, "tickSize": -3.5, "tickWidth": 2}}
      }
    },
    {
      "data": {"values": [{}]},
      "mark": {"type": "point", "shape": "M1,-0.875L-1,0L1,0.875Z", "size": 256, "filled": true, "color": "black", "opacity": 1},
      "encoding": {"x": {"datum": -4.04, "type": "quantitative", "axis": null}, "y": {"datum": 1.8e-10, "type": "quantitative", "axis": null}}
    },
    {
      "data": {"values": [{}]},
      "mark": {"type": "text", "text": "W10L8", "align": "left", "baseline": "alphabetic", "font": "DejaVu Sans", "fontWeight": "bold", "fontSize": 14, "color": "black"},
      "encoding": {"x": {"datum": -6.64, "type": "quantitative", "axis": null}, "y": {"datum": 2.4e-5, "type": "quantitative", "axis": null}}
    },
    {
      "data": {"values": [{}]},
      "mark": {"type": "text", "text": "w/ PFA", "align": "left", "baseline": "alphabetic", "font": "DejaVu Sans", "fontWeight": "bold", "fontSize": 26, "color": "black"},
      "encoding": {"x": {"datum": 6.9, "type": "quantitative", "axis": null}, "y": {"datum": 1.35e-7, "type": "quantitative", "axis": null}}
    },
    {
      "data": {"values": [{}]},
      "mark": {"type": "text", "text": "After Stress", "align": "left", "baseline": "alphabetic", "font": "DejaVu Sans", "fontWeight": "bold", "fontSize": 15.5, "color": "black"},
      "encoding": {"x": {"datum": -9.52, "type": "quantitative", "axis": null}, "y": {"datum": 4.0e-10, "type": "quantitative", "axis": null}}
    }
  ]
}
]
}
